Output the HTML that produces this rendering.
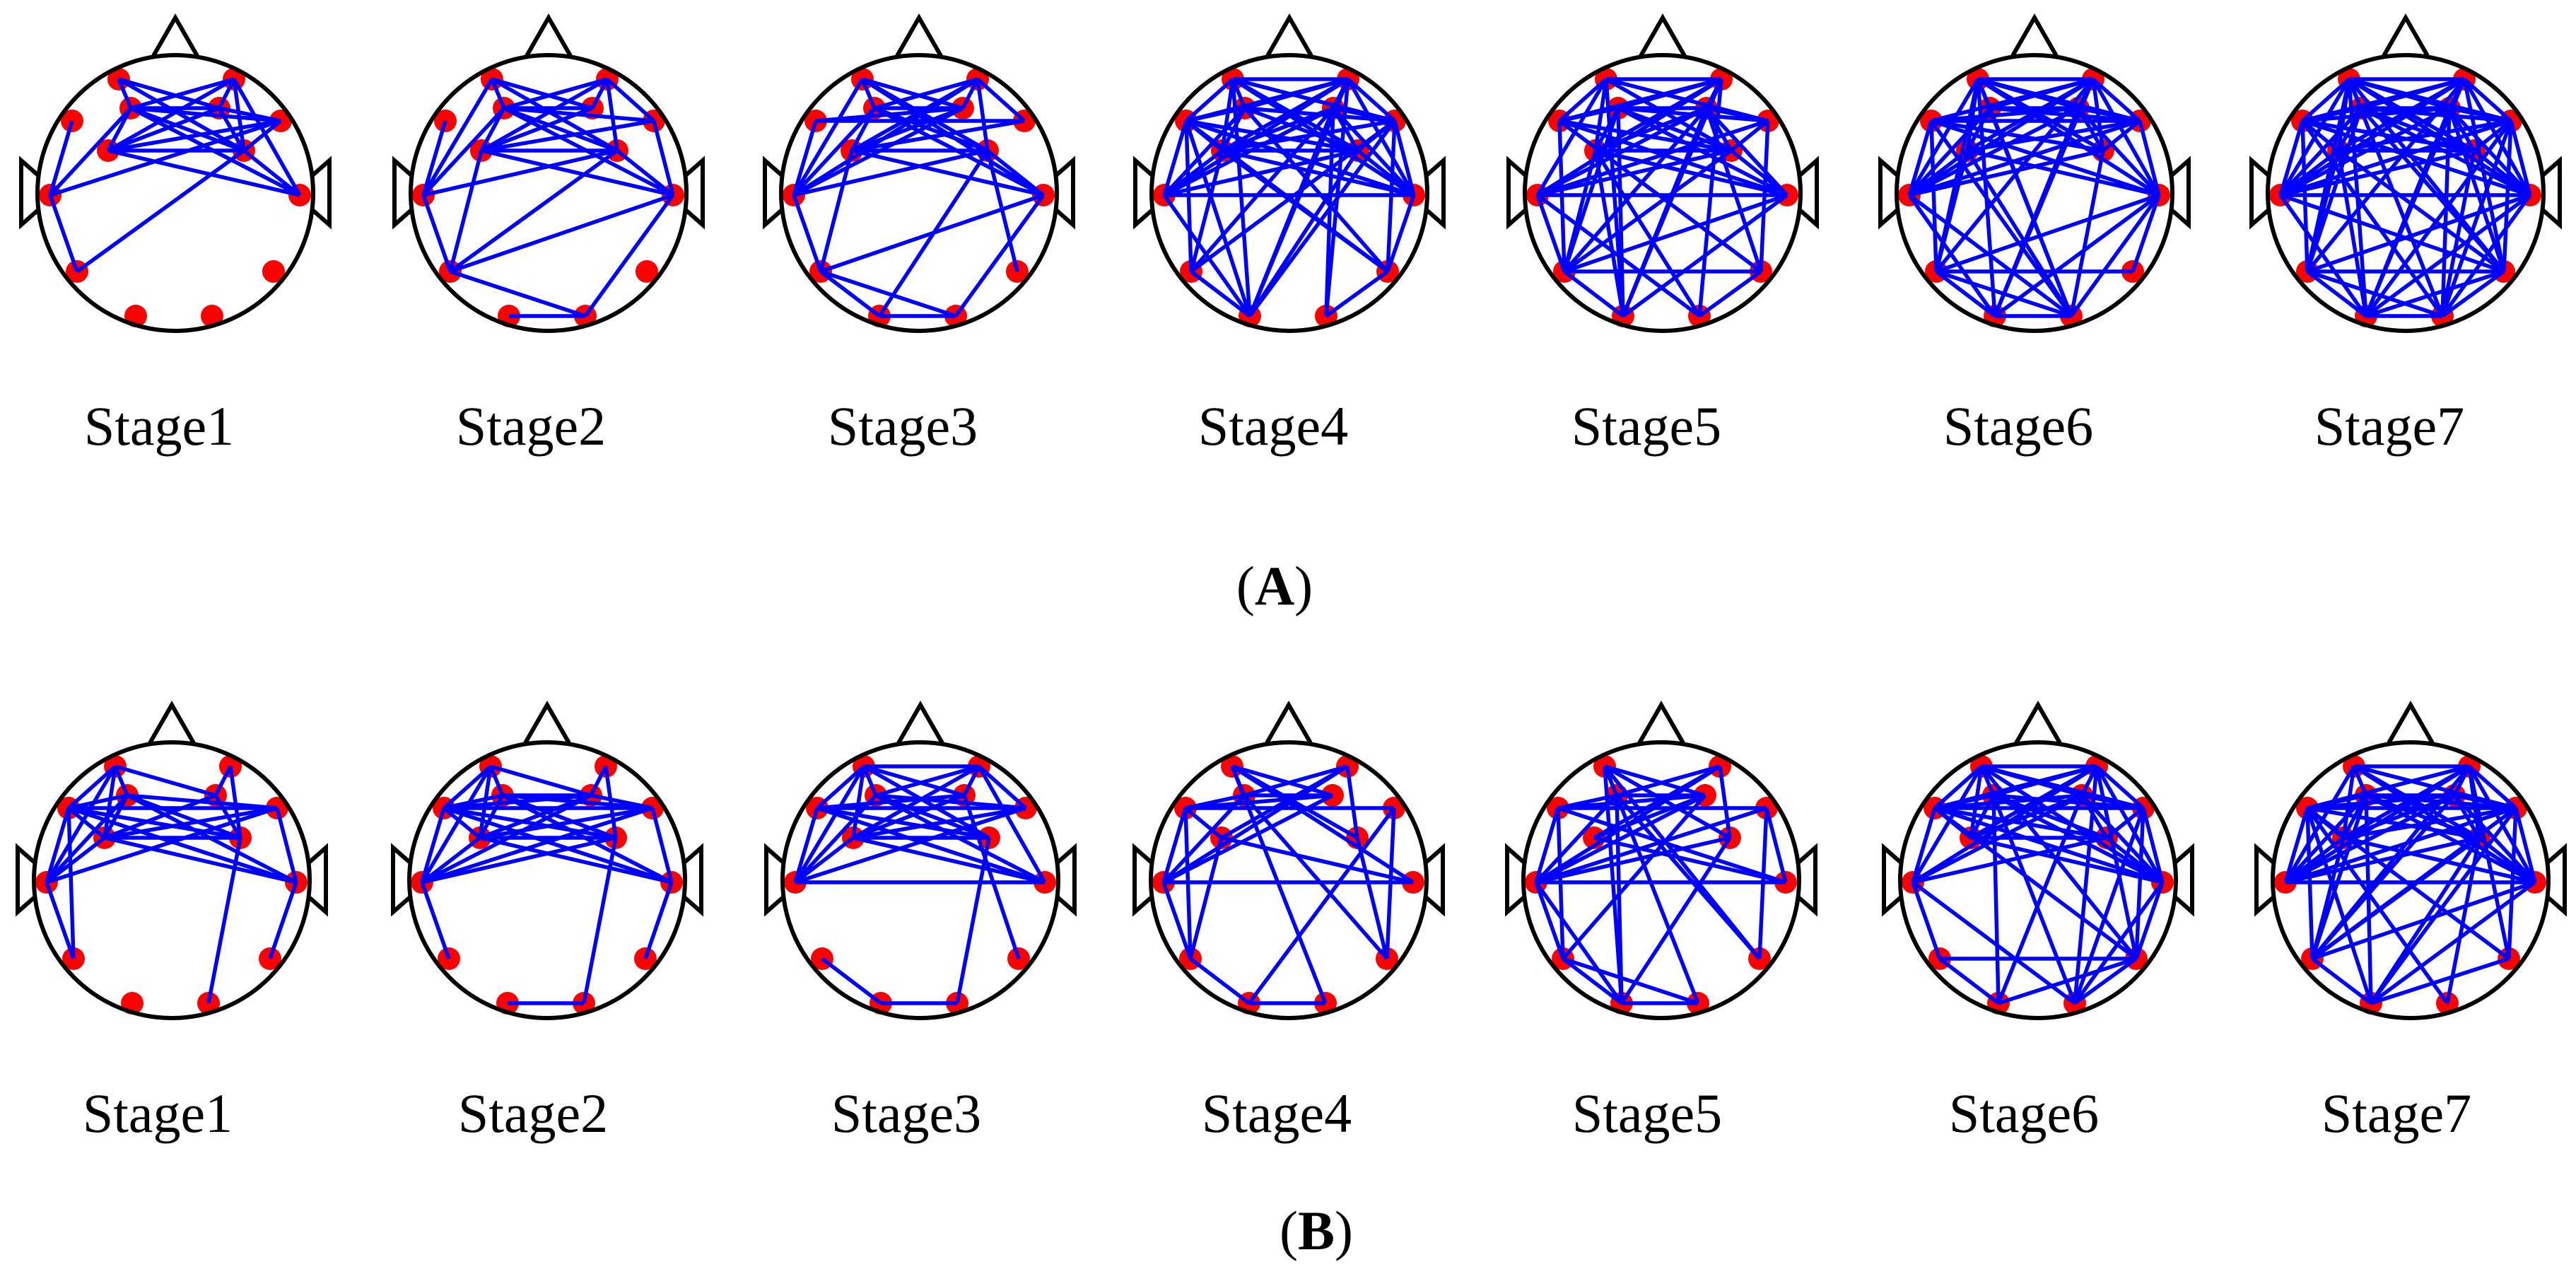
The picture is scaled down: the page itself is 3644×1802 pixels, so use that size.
<!DOCTYPE html>
<html><head><meta charset="utf-8"><style>
html,body{margin:0;padding:0;background:#fff;}
svg{display:block;}
text{font-family:"Liberation Serif",serif;font-size:78px;fill:#000;}
</style></head><body>
<svg id="s" width="3644" height="1802" viewBox="0 0 3644 1802" xmlns="http://www.w3.org/2000/svg">
<text x="225" y="629" text-anchor="middle">Stage1</text>
<text x="751" y="629" text-anchor="middle">Stage2</text>
<text x="1277" y="629" text-anchor="middle">Stage3</text>
<text x="1801" y="629" text-anchor="middle">Stage4</text>
<text x="2329" y="629" text-anchor="middle">Stage5</text>
<text x="2855" y="629" text-anchor="middle">Stage6</text>
<text x="3380" y="629" text-anchor="middle">Stage7</text>
<text x="1803" y="855" text-anchor="middle">(<tspan font-weight="bold">A</tspan>)</text>
<text x="223" y="1601" text-anchor="middle">Stage1</text>
<text x="754" y="1601" text-anchor="middle">Stage2</text>
<text x="1282" y="1601" text-anchor="middle">Stage3</text>
<text x="1806" y="1601" text-anchor="middle">Stage4</text>
<text x="2330" y="1601" text-anchor="middle">Stage5</text>
<text x="2863" y="1601" text-anchor="middle">Stage6</text>
<text x="3390" y="1601" text-anchor="middle">Stage7</text>
<text x="1862" y="1767" text-anchor="middle">(<tspan font-weight="bold">B</tspan>)</text>
</svg>
<script>
(function(){
var NS="http://www.w3.org/2000/svg",s=document.getElementById('s');
var E=[[-80,-161],[83,-161],[-146,-102],[-63,-120],[62,-120],[149,-102],[-95,-60],[97,-60],[-177,3],[176,3],[-139,111],[139,111],[-56,174],[52,174]];
function P(str){return str.split(' ').map(function(p){return p.split('-').map(Number);});}
var seed=12345;function rnd(){seed=(seed*1103515245+12345)%2147483648;return seed/2147483648;}
function dense(p,pf){var r=[];for(var i=0;i<14;i++)for(var j=i+1;j<14;j++){var front=(i<10&&j<10);if(rnd()<(front?pf:p))r.push([i,j]);}return r;}
var heads=[
 [248,273,P("0-3 0-4 0-7 1-3 1-6 1-7 1-9 1-4 3-4 3-5 3-7 3-9 3-6 3-8 4-5 4-7 4-6 6-7 6-9 6-5 8-5 8-2 8-10 10-7 7-9 7-5")],
 [776,273,P("0-3 0-7 0-4 0-8 1-3 1-6 1-7 1-4 2-8 3-4 3-7 3-6 3-9 3-5 3-8 4-6 5-6 5-9 6-7 6-9 6-10 7-9 7-10 8-7 8-10 9-10 9-13 10-13 12-13 1-5")],
 [1300,273,P("0-3 0-4 0-7 0-8 0-9 1-3 1-6 1-7 1-5 1-4 1-8 2-5 2-8 2-4 3-4 3-7 3-6 3-8 3-9 4-6 4-8 5-6 6-7 6-9 6-10 7-8 7-9 7-11 7-12 8-10 9-10 9-13 10-12 10-13 12-13")],
 [1824,273,null,0.45,0.85],
 [2352,273,null,0.4,0.75],
 [2878,273,null,0.5,0.8],
 [3403,273,null,0.7,0.95],
 [243,1245,P("0-4 0-3 0-2 0-8 0-6 1-4 1-7 7-13 2-3 2-5 2-7 2-9 2-8 2-10 2-6 3-5 3-7 3-9 3-6 3-8 4-6 4-7 5-8 6-5 6-9 6-7 6-8 8-10 9-11 9-5")],
 [774,1245,P("0-3 0-4 0-8 0-2 0-6 1-4 1-7 2-3 2-4 2-5 2-7 2-9 2-8 2-6 3-4 3-5 3-6 3-9 3-7 4-6 4-5 4-8 5-6 5-8 5-9 6-7 6-8 6-9 7-8 7-13 8-10 9-11 12-13")],
 [1302,1245,P("0-1 0-3 0-4 0-7 0-2 0-8 0-6 1-3 1-6 1-5 1-9 1-4 2-5 2-4 2-8 2-7 2-9 3-5 3-8 3-9 3-7 4-6 4-11 7-13 5-6 5-8 6-7 6-9 6-8 8-9 10-12 12-13")],
 [1823,1245,P("0-3 0-4 0-7 0-13 1-3 1-6 1-8 1-7 2-5 2-3 2-4 2-8 2-10 2-6 3-4 3-8 3-11 5-12 5-11 6-9 6-10 4-8 8-9 8-10 10-12 12-13 7-11 0-9")],
 [2350,1245,P("0-3 0-4 0-7 0-12 0-11 1-3 1-6 1-8 1-7 2-5 2-3 2-4 2-8 2-10 2-9 3-4 3-8 3-11 3-13 4-6 4-10 4-8 5-9 5-11 5-8 6-9 7-8 7-12 8-9 8-10 8-12 10-12 10-13 12-13 3-12")],
 [2883,1245,null,0.35,0.8],
 [3410,1245,null,0.45,0.85]
];
var gD=document.createElementNS(NS,'g'),gL=document.createElementNS(NS,'g'),gH=document.createElementNS(NS,'g');
s.appendChild(gD);s.appendChild(gL);s.appendChild(gH);
function el(g,t,a){var e=document.createElementNS(NS,t);for(var k in a)e.setAttribute(k,a[k]);g.appendChild(e);return e;}
heads.forEach(function(h){
 var cx=h[0],cy=h[1],ed=h[2]||dense(h[3],h[4]);
 E.forEach(function(p){el(gD,'circle',{cx:cx+p[0],cy:cy+p[1],r:16,fill:'#ff0000'});});
 ed.forEach(function(e){var a=E[e[0]],b=E[e[1]];el(gL,'line',{x1:cx+a[0],y1:cy+a[1],x2:cx+b[0],y2:cy+b[1],stroke:'#0000ff','stroke-width':5.5});});
 el(gH,'circle',{cx:cx,cy:cy,r:195,fill:'none',stroke:'#000','stroke-width':6});
 el(gH,'polyline',{points:(cx-31)+','+(cy-194)+' '+cx+','+(cy-248)+' '+(cx+31)+','+(cy-194),fill:'none',stroke:'#000','stroke-width':6});
 el(gH,'polyline',{points:(cx-194)+','+(cy-25)+' '+(cx-218)+','+(cy-46)+' '+(cx-218)+','+(cy+45)+' '+(cx-194)+','+(cy+24),fill:'none',stroke:'#000','stroke-width':6});
 el(gH,'polyline',{points:(cx+194)+','+(cy-25)+' '+(cx+218)+','+(cy-46)+' '+(cx+218)+','+(cy+45)+' '+(cx+194)+','+(cy+24),fill:'none',stroke:'#000','stroke-width':6});
});
})();
</script>
</body></html>
